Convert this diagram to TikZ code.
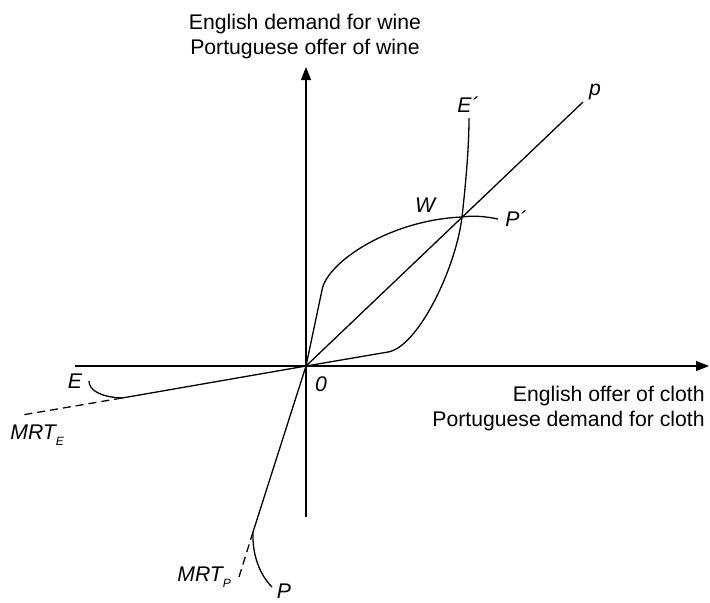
\documentclass[tikz,border=0pt]{standalone}
\usepackage{fontspec}
\setmainfont{Liberation Sans}
\usetikzlibrary{arrows.meta}

\begin{document}
\begin{tikzpicture}[
                x=0.5pt, y=-0.5pt,
                font=\fontsize{10.6}{12.5}\selectfont,
                curve/.style={line width=0.65pt},
                axis/.style={line width=0.65pt, -{Triangle[length=6.5pt, width=5pt]}},
                mrt/.style={line width=0.65pt, dash pattern=on 4pt off 2.5pt},
                lbl/.style={inner sep=0pt, anchor=base, font=\fontsize{10.6}{12.5}\selectfont\itshape},
                axislabel/.style={inner sep=0pt, align=center}
            ]
            \useasboundingbox (0,0) rectangle (710,602);
            % points of the diagram
            \coordinate (O) at (306,366);
            \coordinate (ybot) at (306,517);
            \coordinate (ytop) at (306,67);
            \coordinate (xleft) at (75,366);
            \coordinate (xright) at (709,366);
            \coordinate (pend) at (583,102);
            \coordinate (Eend) at (122,398);
            \coordinate (Pend) at (253,532);
            \coordinate (W) at (462,217);
            \coordinate (Ekink) at (388,352);
            \coordinate (Pkink) at (322,290);
            \coordinate (Etop) at (469,118);
            \coordinate (Pright) at (498,219);
            \coordinate (Ehook) at (89,381);
            \coordinate (Phook) at (272,587);
            \coordinate (mrtE) at (22,415);
            \coordinate (mrtP) at (239,577);
            % axes
            \draw[axis] (ybot) -- (ytop);
            \draw[axis] (xleft) -- (xright);
            \node[axislabel] (ylab) at (305,37) {English demand for wine\\Portuguese offer of wine};
            \node[axislabel, align=right, anchor=east] (xlab) at (705,408) {English offer of cloth\\Portuguese demand for cloth};
            % terms of trade ray
            \draw[curve] (O) -- (pend);
            % offer curves
            \draw[curve] (O) -- (Ekink) .. controls (418,347) and (456,268) .. (W)
            .. controls (465,190) and (469,150) .. (Etop);
            \draw[curve] (O) -- (Pkink) .. controls (327,262) and (390,220) .. (W)
            .. controls (475,215) and (488,217) .. (Pright);
            % autarky lines
            \draw[curve] (O) -- (Eend) .. controls (100,397) and (89,390) .. (Ehook);
            \draw[curve] (O) -- (Pend) .. controls (252,555) and (260,575) .. (Phook);
            \draw[mrt] (Eend) -- (mrtE);
            \draw[mrt] (Pend) -- (mrtP);
            % labels
            \node[lbl] (lEp) at (468,112) {E´};
            \node[lbl] (lp) at (595,95) {p};
            \node[lbl] (lW) at (425,212) {W};
            \node[lbl] (lPp) at (516,226) {P´};
            \node[lbl] (lE) at (75,388) {E};
            \node[lbl] (lO) at (321,391) {0};
            \node[lbl] (lP) at (284,598) {P};
            \node[lbl, anchor=base west] (lmrtE) at (10,439) {MRT\raisebox{-0.6ex}{\fontsize{6}{6}\selectfont E}};
            \node[lbl, anchor=base west] (lmrtP) at (177,581) {MRT\raisebox{-0.6ex}{\fontsize{6}{6}\selectfont P}};
        \end{tikzpicture}
\end{document}
